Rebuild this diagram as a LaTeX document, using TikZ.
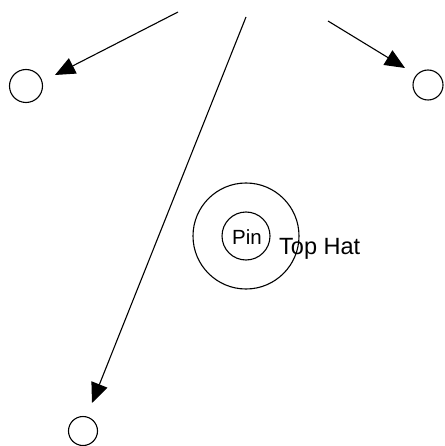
\documentclass[tikz,border=0pt]{standalone}
\usepackage{fontspec}
\setmainfont{Liberation Sans}
\usetikzlibrary{arrows.meta}
\begin{document}
\begin{tikzpicture}[x=1pt,y=-1pt,
  dot/.style={draw,circle,inner sep=0pt,line width=1.1pt},
  arr/.style={line width=1.1pt,-{Triangle[length=20pt,width=17pt]}},
  lbl/.style={inner sep=0pt}]
\useasboundingbox (0,0) rectangle (444,446);
\node[dot,minimum size=33pt] (left) at (26,86) {};
\node[dot,minimum size=30pt] (right) at (428,85) {};
\node[dot,minimum size=29pt] (bottom) at (83,431) {};
\node[dot,minimum size=106pt] (hat) at (246,236) {};
\node[dot,minimum size=48pt] (pin) at (246,236) {};
\node[lbl,font=\fontsize{20.5}{20.5}\selectfont] (pintext) at (247,237.5) {Pin};
\node[lbl,anchor=base west,font=\fontsize{23.5}{23.5}\selectfont] (tophat) at (279,254) {Top Hat};
\coordinate (s1) at (178,12);
\coordinate (t1) at (55,75);
\coordinate (s2) at (246,17);
\coordinate (t2) at (92,403);
\coordinate (s3) at (328,21);
\coordinate (t3) at (405,68);
\draw[arr] (s1) -- (t1);
\draw[arr] (s2) -- (t2);
\draw[arr] (s3) -- (t3);
\end{tikzpicture}
\end{document}
